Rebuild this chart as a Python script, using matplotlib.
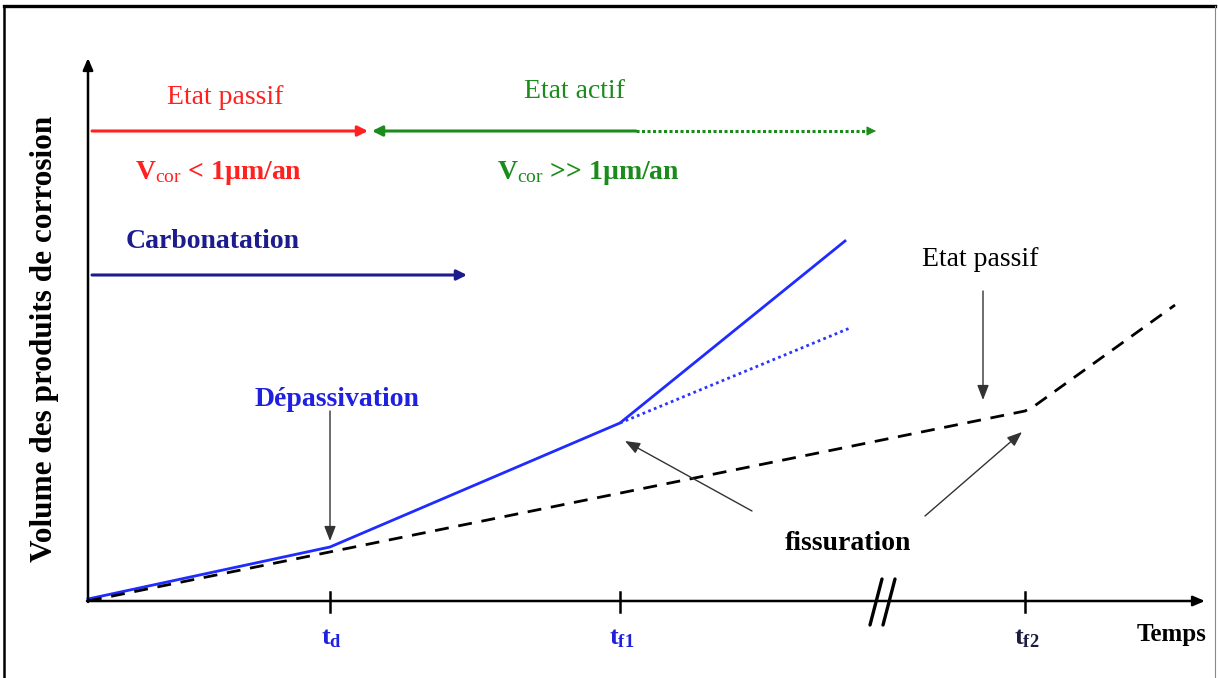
import numpy as np
import matplotlib
matplotlib.use("Agg")
from matplotlib import pyplot as plt

plt.rcParams["font.family"] = ["Liberation Serif", "DejaVu Serif"]
plt.rcParams["mathtext.fontset"] = "custom"
plt.rcParams["mathtext.rm"] = "Liberation Serif"
plt.rcParams["mathtext.bf"] = "Liberation Serif:bold"
plt.rcParams["mathtext.it"] = "Liberation Serif:italic"

# x = temps (pixel scale of the sketch), v = volume above the time axis
t_origin = 88
t_d, t_f1, t_f2 = 330, 620, 1025
t_break = 882
t_end = 1205
v_top = 543

tick_positions = [t_d, t_f1, t_f2]
tick_labels = [r"$\mathbf{t_{d}}$", r"$\mathbf{t_{f1}}$", r"$\mathbf{t_{f2}}$"]
tick_colors = ["#2020e0", "#2020e0", "#1c1c40"]

# courbe avec corrosion active (bleu)
blue_t = [t_origin, t_d, t_f1, 845]
blue_v = [2, 54, 178, 360]
# prolongement sans fissuration (pointillé bleu)
blue_dot_t = [t_f1, 850]
blue_dot_v = [178, 273]
# courbe état passif (tirets noirs)
dash_t = [t_origin, t_f2, 1033, 1175]
dash_v = [0, 190, 194, 296]

# bandeaux d'état
passif_span = [92, 368]
actif_solid = [372, 636]
actif_dotted = [636, 876]
carbo_span = [92, 467]
state_v = 470
carbo_v = 326

fig = plt.figure(figsize=(12.18, 6.78), dpi=100)
ax = fig.add_axes([0, 0, 1, 1])
ax.set_xlim(0, 1218)
ax.set_ylim(-77, 601)
ax.axis("off")

# cadre
ax.plot([4, 4], [-77, 595], color="black", lw=1.8, clip_on=False)
ax.plot([4, 1215], [595, 595], color="black", lw=2.4, clip_on=False)
ax.plot([1215, 1215], [-77, 595], color="#888888", lw=0.8, clip_on=False)

# axes
ax.annotate("", xy=(t_origin, v_top), xytext=(t_origin, -1),
            arrowprops=dict(arrowstyle="-|>,head_length=0.7,head_width=0.3",
                            color="black", lw=1.8, shrinkA=0, shrinkB=0))
ax.annotate("", xy=(t_end, 0), xytext=(t_origin - 1, 0),
            arrowprops=dict(arrowstyle="-|>,head_length=0.7,head_width=0.3",
                            color="black", lw=1.8, shrinkA=0, shrinkB=0))
for dx in [-6, 7]:
    ax.plot([t_break + dx + 6, t_break + dx - 6], [22, -24], color="black",
            lw=2.4, solid_capstyle="round")

for pos, lab, col in zip(tick_positions, tick_labels, tick_colors):
    ax.plot([pos, pos], [9, -11], color="black", lw=1.8)
    ax.text(pos + 2, -38, lab, color=col, fontsize=19, ha="center", va="center")
ax.text(1172, -33, "Temps", fontsize=18, fontweight="bold", ha="center", va="center")

ax.text(45, 262, "Volume des produits de corrosion", fontsize=22.5, fontweight="bold",
        rotation=90, ha="center", va="center")

# courbes
ax.plot(blue_t, blue_v, color="#1f2bff", lw=2.0, solid_joinstyle="round")
ax.plot(blue_dot_t, blue_dot_v, color="#2a35ff", lw=2.0, linestyle=(0, (1, 1.2)))
ax.plot(dash_t, dash_v, color="black", lw=2.0, dashes=(5, 3.5))

# bandeaux d'état
ax.annotate("", xy=(passif_span[1], state_v), xytext=(passif_span[0], state_v),
            arrowprops=dict(arrowstyle="-|>,head_length=0.6,head_width=0.3",
                            color="#ff2020", lw=2.2, shrinkA=0, shrinkB=0))
ax.annotate("", xy=(actif_solid[0], state_v), xytext=(actif_solid[1], state_v),
            arrowprops=dict(arrowstyle="-|>,head_length=0.6,head_width=0.3",
                            color="#1b8c1b", lw=2.2, shrinkA=0, shrinkB=0))
ax.plot(actif_dotted[:1] + [actif_dotted[1] - 8], [state_v, state_v],
        color="#1b8c1b", lw=2.2, linestyle=(0, (1, 0.8)))
ax.annotate("", xy=(actif_dotted[1], state_v), xytext=(actif_dotted[1] - 10, state_v),
            arrowprops=dict(arrowstyle="-|>,head_length=0.6,head_width=0.3",
                            color="#1b8c1b", lw=0.5, shrinkA=0, shrinkB=0))
ax.annotate("", xy=(carbo_span[1], carbo_v), xytext=(carbo_span[0], carbo_v),
            arrowprops=dict(arrowstyle="-|>,head_length=0.6,head_width=0.3",
                            color="#1c1c8e", lw=2.2, shrinkA=0, shrinkB=0))

ax.text(225, 503, "Etat passif", color="#ff2020", fontsize=20, ha="center", va="center")
ax.text(575, 510, "Etat actif", color="#1b8c1b", fontsize=20, ha="center", va="center")
ax.text(218, 428, r"$\mathbf{V}_{\mathrm{cor}}$ < 1µm/an", color="#ff2020",
        fontsize=20, fontweight="bold", ha="center", va="center")
ax.text(588, 428, r"$\mathbf{V}_{\mathrm{cor}}$ >> 1µm/an", color="#1b8c1b",
        fontsize=20, fontweight="bold", ha="center", va="center")
ax.text(213, 360, "Carbonatation", color="#1c1c8e", fontsize=20, fontweight="bold",
        ha="center", va="center")

# annotations
thin = dict(arrowstyle="-|>,head_length=0.9,head_width=0.35", color="#333333",
            lw=1.0, shrinkA=0, shrinkB=0)
ax.text(337, 201, "Dépassivation", color="#2020e0", fontsize=20, fontweight="bold",
        ha="center", va="center")
ax.annotate("", xy=(t_d, 60), xytext=(t_d, 190), arrowprops=thin)
ax.text(980, 342, "Etat passif", color="black", fontsize=20, ha="center", va="center")
ax.annotate("", xy=(983, 201), xytext=(983, 310), arrowprops=thin)
ax.text(848, 57, "fissuration", color="black", fontsize=20, fontweight="bold",
        ha="center", va="center")
ax.annotate("", xy=(625, 160), xytext=(752, 90), arrowprops=thin)
ax.annotate("", xy=(1022, 169), xytext=(925, 85), arrowprops=thin)

fig.savefig("out.png", dpi=100)
